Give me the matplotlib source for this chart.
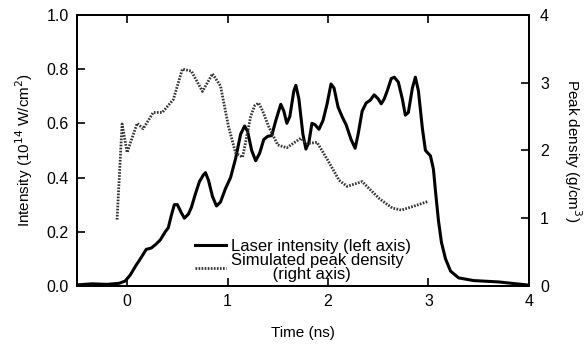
import numpy as np
import matplotlib
matplotlib.use("Agg")
import matplotlib.pyplot as plt

plt.rcParams['font.family'] = ['Liberation Sans', 'DejaVu Sans']

# laser intensity (left axis, 1e14 W/cm2)
t_laser = [-0.5, -0.35, -0.2, -0.08, -0.02, 0.03, 0.09, 0.14, 0.19, 0.24, 0.29, 0.33,
           0.38, 0.41, 0.44, 0.47, 0.50, 0.54, 0.57, 0.61, 0.64, 0.68, 0.72, 0.76,
           0.78, 0.81, 0.85, 0.89, 0.93, 0.98, 1.03, 1.08, 1.13, 1.17, 1.20, 1.24,
           1.28, 1.32, 1.36, 1.40, 1.44, 1.48, 1.53, 1.56, 1.59, 1.62, 1.66, 1.68,
           1.71, 1.75, 1.78, 1.81, 1.84, 1.87, 1.91, 1.95, 1.99, 2.03, 2.06, 2.10,
           2.14, 2.18, 2.23, 2.27, 2.30, 2.34, 2.38, 2.42, 2.46, 2.50, 2.53, 2.56,
           2.59, 2.63, 2.66, 2.70, 2.74, 2.77, 2.80, 2.84, 2.87, 2.90, 2.94, 2.97,
           3.02, 3.05, 3.07, 3.10, 3.13, 3.17, 3.22, 3.30, 3.45, 3.70, 3.98]
laser = [0.004, 0.008, 0.006, 0.010, 0.018, 0.04, 0.077, 0.105, 0.135, 0.14, 0.155, 0.17,
         0.20, 0.215, 0.26, 0.30, 0.30, 0.27, 0.25, 0.265, 0.29, 0.34, 0.385, 0.41,
         0.418, 0.39, 0.33, 0.295, 0.31, 0.36, 0.40, 0.47, 0.56, 0.59, 0.57, 0.50,
         0.462, 0.49, 0.54, 0.552, 0.555, 0.61, 0.67, 0.645, 0.60, 0.625, 0.72, 0.74,
         0.69, 0.56, 0.505, 0.53, 0.60, 0.595, 0.578, 0.61, 0.67, 0.745, 0.73, 0.66,
         0.625, 0.595, 0.54, 0.508, 0.56, 0.645, 0.675, 0.685, 0.705, 0.69, 0.672, 0.69,
         0.72, 0.765, 0.77, 0.752, 0.69, 0.63, 0.64, 0.73, 0.77, 0.72, 0.58, 0.50,
         0.48, 0.43, 0.35, 0.24, 0.16, 0.10, 0.055, 0.03, 0.02, 0.015, 0.004]

# simulated peak density (right axis, g/cm3)
t_dens = [-0.10, -0.05, 0.0, 0.10, 0.16, 0.26, 0.35, 0.46, 0.55, 0.64, 0.75, 0.85,
          0.93, 1.01, 1.08, 1.15, 1.23, 1.27, 1.31, 1.35, 1.41, 1.50, 1.59, 1.73,
          1.79, 1.89, 2.00, 2.11, 2.19, 2.34, 2.51, 2.64, 2.73, 2.86, 3.00]
dens = [0.98, 2.39, 1.97, 2.40, 2.32, 2.56, 2.56, 2.75, 3.20, 3.17, 2.87, 3.13,
        2.95, 2.35, 1.96, 1.90, 2.50, 2.66, 2.70, 2.58, 2.35, 2.08, 2.04, 2.18,
        2.10, 2.12, 1.85, 1.56, 1.47, 1.54, 1.29, 1.15, 1.12, 1.18, 1.25]

fig = plt.figure(figsize=(5.87, 3.45), dpi=100)
ax = fig.add_axes([0.131, 0.171, 0.770, 0.786])
ax2 = ax.twinx()

l1, = ax.plot(t_laser, laser, color='black', lw=2.2, solid_joinstyle='round')
l2, = ax2.plot(t_dens, dens, color='#333333', lw=2.0, linestyle=(0, (0.6, 0.5)))

ax.set_xlim(-0.5, 4)
ax.set_ylim(0, 1.0)
ax2.set_ylim(0, 4)
ax.set_xticks([0, 1, 2, 3, 4])
ax.set_yticks([0.0, 0.2, 0.4, 0.6, 0.8, 1.0])
ax.set_yticklabels(['0.0', '0.2', '0.4', '0.6', '0.8', '1.0'])
ax2.set_yticks([0, 1, 2, 3, 4])

ax.tick_params(direction='in', top=True, length=6, width=1.2, labelsize=11.5, pad=6)
ax2.tick_params(direction='in', length=6, width=1.2, labelsize=11.5, pad=8)
for a in (ax, ax2):
    for s in a.spines.values():
        s.set_linewidth(1.4)

ax.set_xlabel('Time (ns)', fontsize=11, labelpad=12)
ax.set_ylabel('Intensity (10$^{14}$ W/cm$^2$)', fontsize=11, labelpad=8)
ax2.set_ylabel('Peak density (g/cm$^3$)', fontsize=11, rotation=270, labelpad=25)

ax.legend([l1, l2], ['Laser intensity (left axis)',
                     'Simulated peak density\n         (right axis)'],
          loc='lower left', bbox_to_anchor=(0.235, -0.03), frameon=False,
          fontsize=12, handlelength=1.9, handletextpad=0.3,
          labelspacing=-0.05, borderpad=0.2)
for txt in ax.get_legend().get_texts():
    txt.set_linespacing(0.95)

fig.savefig('out.png', dpi=100)
